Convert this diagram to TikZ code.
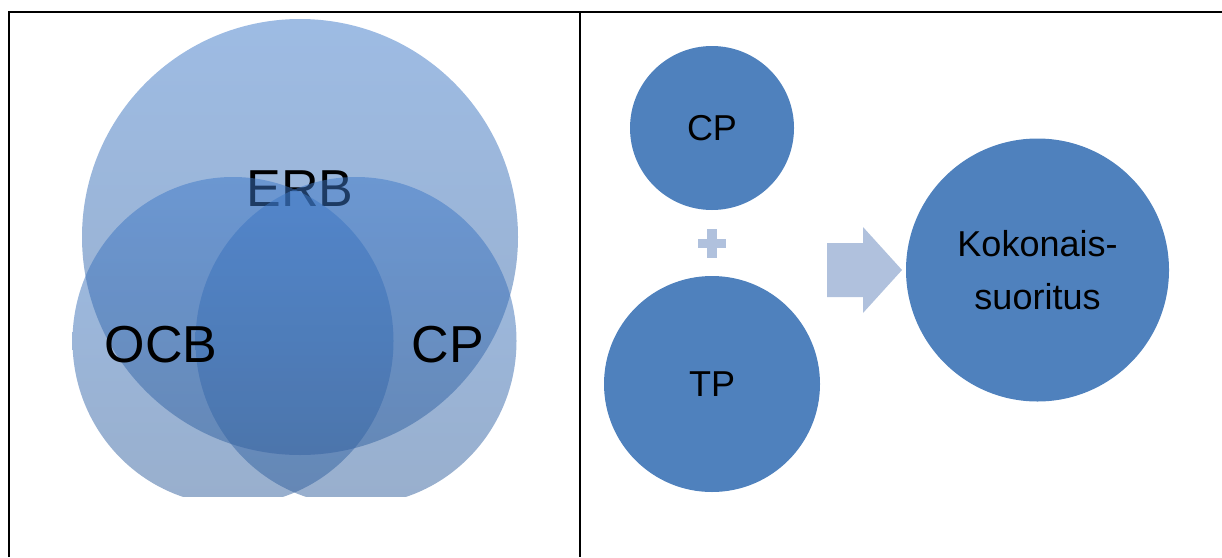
\documentclass[tikz,border=0pt]{standalone}
\usepackage{fontspec}
\setmainfont{Liberation Sans}
\usetikzlibrary{shapes.geometric}

\definecolor{venntop}{RGB}{60,120,200}
\definecolor{vennbot}{RGB}{50,95,155}
\definecolor{ballblue}{RGB}{79,129,189}
\definecolor{paleblue}{RGB}{176,193,221}

\tikzstyle{venn}=[ellipse,inner sep=0pt,top color=venntop,bottom color=vennbot,fill opacity=0.5]
\tikzstyle{vlabel}=[inner sep=0pt,font=\fontsize{52}{60}\selectfont]
\tikzstyle{ball}=[circle,fill=ballblue,inner sep=0pt,font=\fontsize{36}{53}\selectfont,align=center]

\begin{document}
\begin{tikzpicture}[x=1pt,y=-1pt]
	\useasboundingbox (0,0) rectangle (1222,557);
	% Venn part, cut off at the bottom
	\begin{scope}
		\clip (8,11) rectangle (580,496);
		\node[venn,minimum width=436pt,minimum height=436pt] (erb) at (300,237) {};
		\node[vlabel] (erbt) at (300,189) {ERB};
		\node[venn,minimum width=321pt,minimum height=328pt] (ocb) at (233,341) {};
		\node[venn,minimum width=321pt,minimum height=328pt] (cp) at (356,341) {};
	\end{scope}
	\node[vlabel] (ocbt) at (161,345) {OCB};
	\node[vlabel] (cpt) at (448,345) {CP};
	% right part
	\node[ball,minimum size=164pt] (cp2) at (712,128) {CP};
	\node[ball,minimum size=216pt] (tp) at (712,384) {TP};
	\node[ball,minimum size=263pt] (total) at (1037.5,270) {Kokonais-\\suoritus};
	\fill[paleblue] (698,239) rectangle (726,248);
	\fill[paleblue] (707,229) rectangle (717,258);
	\fill[paleblue] (827,243) -- (863,243) -- (863,227) -- (902,270)
		-- (863,313) -- (863,297) -- (827,297) -- cycle;
	% table lines
	\draw[line width=2pt] (8.5,557) -- (8.5,11.5) -- (1222,11.5);
	\draw[line width=2pt] (580,11.5) -- (580,557);
\end{tikzpicture}
\end{document}
